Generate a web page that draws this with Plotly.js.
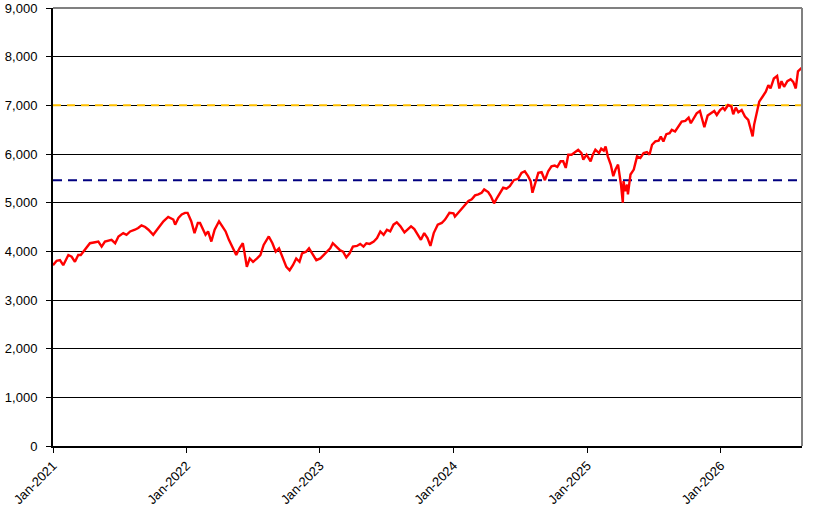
<!DOCTYPE html>
<html>
<head>
<meta charset="utf-8">
<script src="https://cdn.plot.ly/plotly-3.0.1.min.js"></script>
<style>html,body{margin:0;padding:0;background:#fff;}#chart{width:827px;height:521px;}</style>
</head>
<body>
<div id="chart"></div>
<script>
const dates = [
'2021-01-01','2021-01-11','2021-01-20','2021-01-29','2021-02-12','2021-02-21','2021-03-02','2021-03-11','2021-03-18','2021-03-25',
'2021-04-03','2021-04-12','2021-04-26','2021-05-05','2021-05-14','2021-05-23','2021-06-10','2021-06-20','2021-06-29','2021-07-12',
'2021-07-21','2021-07-31','2021-08-13','2021-08-22','2021-08-31','2021-09-10','2021-09-19','2021-10-02','2021-10-16','2021-10-30',
'2021-11-12','2021-11-26','2021-12-01','2021-12-10','2021-12-19','2021-12-28',
'2022-01-04','2022-01-14','2022-01-23','2022-02-01','2022-02-07','2022-02-15','2022-02-22','2022-03-01','2022-03-10','2022-03-19',
'2022-03-31','2022-04-09','2022-04-18','2022-04-27','2022-05-06','2022-05-17','2022-05-26','2022-06-04','2022-06-09','2022-06-15',
'2022-06-23','2022-07-02','2022-07-13','2022-07-22','2022-07-31','2022-08-14','2022-08-24','2022-09-02','2022-09-11','2022-09-20',
'2022-10-01','2022-10-10','2022-10-19','2022-10-28','2022-11-06','2022-11-13','2022-11-24','2022-12-02','2022-12-11','2022-12-22',
'2023-01-02','2023-01-11','2023-01-20','2023-01-29','2023-02-05','2023-02-15','2023-02-24','2023-03-05','2023-03-14','2023-03-23',
'2023-04-01','2023-04-12','2023-04-21','2023-04-30','2023-05-08','2023-05-17','2023-05-28','2023-06-06','2023-06-15','2023-06-24',
'2023-07-03','2023-07-12','2023-07-21','2023-07-30','2023-08-09','2023-08-20','2023-08-29','2023-09-07','2023-09-16','2023-09-25',
'2023-10-04','2023-10-13','2023-10-22','2023-10-30','2023-11-08','2023-11-19','2023-11-30','2023-12-09','2023-12-21',
'2024-01-01','2024-01-05','2024-01-13','2024-01-22','2024-02-01','2024-02-11','2024-02-20','2024-02-29','2024-03-09','2024-03-18',
'2024-03-25','2024-04-05','2024-04-12','2024-04-21','2024-04-28','2024-05-07','2024-05-16','2024-05-25','2024-06-03','2024-06-14',
'2024-06-26','2024-07-05','2024-07-14','2024-07-23','2024-07-30','2024-08-04','2024-08-11','2024-08-20','2024-08-29','2024-09-07',
'2024-09-16','2024-09-25','2024-10-04','2024-10-11','2024-10-20','2024-10-27','2024-11-03','2024-11-10','2024-11-19','2024-11-28',
'2024-12-07','2024-12-16','2024-12-21','2024-12-30',
'2025-01-10','2025-01-16','2025-01-23','2025-02-02','2025-02-08','2025-02-15','2025-02-20','2025-02-26','2025-03-06','2025-03-13',
'2025-03-19','2025-03-26','2025-03-31','2025-04-03','2025-04-08','2025-04-10','2025-04-15','2025-04-20','2025-04-22','2025-04-29',
'2025-05-08','2025-05-17','2025-05-26','2025-06-04','2025-06-13','2025-06-20','2025-06-27','2025-07-06','2025-07-15','2025-07-21',
'2025-07-28','2025-08-05','2025-08-14','2025-08-20','2025-08-29','2025-09-07','2025-09-16','2025-09-26','2025-10-05','2025-10-11',
'2025-10-18','2025-10-27','2025-11-05','2025-11-11','2025-11-17','2025-11-26','2025-12-05','2025-12-14','2025-12-21','2025-12-30',
'2026-01-07','2026-01-12','2026-01-21','2026-01-30','2026-02-04','2026-02-11','2026-02-18','2026-02-27','2026-03-08','2026-03-17',
'2026-03-23','2026-03-29','2026-04-02','2026-04-09','2026-04-16','2026-04-25','2026-05-04','2026-05-11','2026-05-17','2026-05-26',
'2026-06-04','2026-06-10','2026-06-16','2026-06-23','2026-07-02','2026-07-11','2026-07-18','2026-07-25','2026-07-31','2026-08-10'
];
const values = [
3715,3806,3820,3715,3924,3889,3785,3924,3924,3993,
4062,4167,4187,4201,4097,4201,4236,4167,4305,4375,
4340,4409,4444,4479,4534,4500,4444,4340,4479,4618,
4708,4653,4548,4687,4757,4791,
4791,4618,4375,4583,4583,4444,4340,4409,4201,4444,
4618,4514,4409,4236,4097,3924,4062,4167,3958,3681,
3854,3785,3854,3924,4132,4305,4167,3993,4062,3889,
3681,3611,3715,3854,3785,3958,3993,4062,3958,3819,
3854,3924,3993,4062,4167,4097,4028,3993,3875,3958,
4097,4111,4153,4097,4167,4153,4201,4271,4409,4340,
4444,4409,4548,4597,4514,4389,4444,4514,4458,4340,
4236,4375,4271,4111,4375,4548,4583,4653,4791,
4782,4714,4782,4864,4966,5034,5068,5150,5170,5204,
5272,5218,5136,4986,5082,5204,5306,5286,5340,5462,
5490,5612,5646,5544,5442,5204,5408,5612,5626,5462,
5646,5748,5762,5734,5850,5850,5714,5986,5986,6034,
6088,6020,5884,5986,
5850,5986,6088,6020,6109,6068,6156,5952,5782,5544,
5680,5782,5578,5374,5000,5442,5238,5374,5170,5578,
5680,5952,5918,6020,6041,5986,6190,6258,6272,6360,
6258,6408,6428,6496,6462,6564,6666,6680,6748,6632,
6734,6836,6884,6734,6550,6790,6836,6884,6802,6904,
6952,6905,7007,6973,6816,6952,6857,6905,6769,6701,
6531,6361,6599,6871,7075,7177,7279,7415,7347,7551,
7605,7347,7496,7381,7496,7537,7483,7347,7700,7768
];
const refUpper = 7000;
const refLower = 5460;
const xStart = '2021-01-01';
const xEnd = '2026-08-11';
const tickDates = ['2021-01-01','2022-01-01','2023-01-01','2024-01-01','2025-01-01','2026-01-01'];
const tickLabels = ['Jan-2021','Jan-2022','Jan-2023','Jan-2024','Jan-2025','Jan-2026'];
const yTicks = [0,1000,2000,3000,4000,5000,6000,7000,8000,9000];

const font = {family:'Liberation Sans, Arial, sans-serif', size:13, color:'#000'};
const traces = [
  {x:[xStart,xEnd], y:[refUpper,refUpper], mode:'lines', line:{color:'#FFC000', width:2, dash:'8px,6px'}, hoverinfo:'skip'},
  {x:[xStart,xEnd], y:[refLower,refLower], mode:'lines', line:{color:'#000080', width:2, dash:'9px,6px'}, hoverinfo:'skip'},
  {x:dates, y:values, mode:'lines', line:{color:'#FF0000', width:2.4}}
];
const layout = {
  width:827, height:521,
  margin:{l:53, r:25, t:8, b:75},
  paper_bgcolor:'#fff', plot_bgcolor:'#fff',
  showlegend:false,
  font:font,
  xaxis:{type:'date', range:[xStart,xEnd], tickvals:tickDates, ticktext:tickLabels, tickangle:-45,
    showgrid:false, zeroline:false, showline:true, linecolor:'#000', linewidth:2,
    ticks:'outside', ticklen:5, tickcolor:'#000', tickfont:font},
  yaxis:{range:[0,9000], tickvals:yTicks, tickformat:',d', showgrid:true, gridcolor:'#000', gridwidth:1,
    zeroline:false, showline:true, linecolor:'#000', linewidth:2,
    ticks:'outside', ticklen:5, tickcolor:'#000', tickfont:font, ticklabelstandoff:6},
  shapes:[
    {type:'line', xref:'paper', yref:'paper', x0:0, x1:1, y0:1, y1:1, line:{color:'#808080', width:2}},
    {type:'line', xref:'paper', yref:'paper', x0:1, x1:1, y0:0, y1:1, line:{color:'#808080', width:2}}
  ]
};
Plotly.newPlot('chart', traces, layout, {staticPlot:true, displayModeBar:false});
</script>
</body>
</html>
